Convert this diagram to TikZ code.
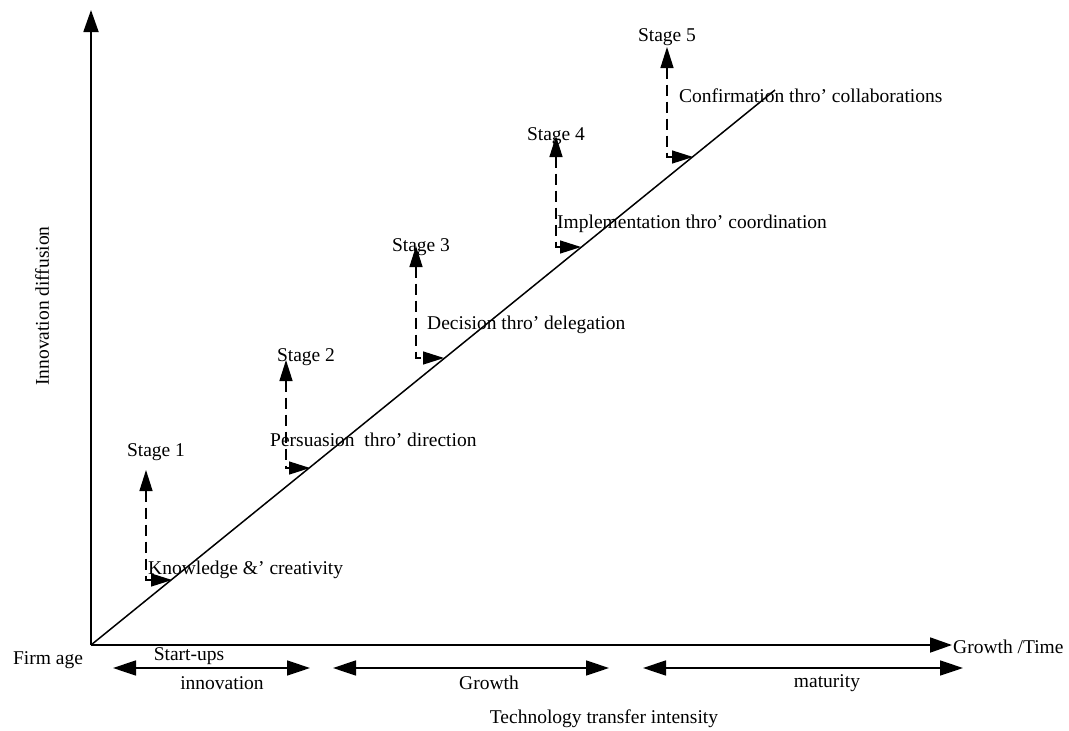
\documentclass[tikz,border=0pt]{standalone}
\usepackage{fontspec}
\setmainfont{Liberation Serif}
\usetikzlibrary{arrows.meta}
\tikzset{
  lbl/.style={inner sep=0pt, font=\fontsize{19.5}{22}\selectfont},
  axis/.style={line width=1.8pt, -{Triangle[length=22pt,width=15pt]}},
  diag/.style={line width=1.5pt},
  stagearrow/.style={line width=1.3pt, dash pattern=on 11pt off 6pt,
    {Triangle[length=21pt,width=13pt]}-{Triangle[length=21pt,width=13pt]}},
  phase/.style={line width=1.5pt,
    {Triangle[length=23pt,width=15pt]}-{Triangle[length=23pt,width=15pt]}}
}
\begin{document}
\begin{tikzpicture}[x=1pt,y=-1pt]
  \useasboundingbox (0,0) rectangle (1069,731);

  % axes
  \coordinate (O) at (91,645);
  \coordinate (ytop) at (91,10);
  \coordinate (xend) at (952,645);
  \draw[axis] (O) -- (ytop);
  \draw[axis] (O) -- (xend);

  % diffusion line
  \coordinate (dend) at (775,90);
  \draw[diag] (O) -- (dend);

  % stage connectors: dashed rise from the line up to each stage
  \coordinate (s1top) at (146,470);  \coordinate (s1foot) at (172,580);
  \coordinate (s2top) at (286,360);  \coordinate (s2foot) at (310,468);
  \coordinate (s3top) at (416,246);  \coordinate (s3foot) at (444,358);
  \coordinate (s4top) at (556,136);  \coordinate (s4foot) at (581,247);
  \coordinate (s5top) at (667,47);   \coordinate (s5foot) at (693,157);
  \foreach \i in {1,...,5}{
    \draw[stagearrow] (s\i top) |- (s\i foot);
  }

  % stage titles
  \node[lbl] (st1) at (156,452) {Stage 1};
  \node[lbl] (st2) at (306,357) {Stage 2};
  \node[lbl] (st3) at (421,247) {Stage 3};
  \node[lbl] (st4) at (556,136) {Stage 4};
  \node[lbl] (st5) at (667,37)  {Stage 5};

  % stage descriptions
  \node[lbl, anchor=west] (d1) at (148,570) {Knowledge \&’ creativity};
  \node[lbl, anchor=west] (d2) at (270,440) {Persuasion\ \ thro’ direction};
  \node[lbl, anchor=west] (d3) at (427,325) {Decision thro’ delegation};
  \node[lbl, anchor=west] (d4) at (557,224) {Implementation thro’ coordination};
  \node[lbl, anchor=west] (d5) at (679,96)  {Confirmation thro’ collaborations};

  % axis labels
  \node[lbl, rotate=90] (ylab) at (42,306) {Innovation diffusion};
  \node[lbl] (firm) at (48,660) {Firm age};
  \node[lbl, anchor=west] (xlab) at (953,647) {Growth /Time};
  \node[lbl] (tti) at (604,719) {Technology transfer intensity};

  % phases along the time axis
  \coordinate (p1a) at (113,668); \coordinate (p1b) at (310,668);
  \coordinate (p2a) at (333,668); \coordinate (p2b) at (609,668);
  \coordinate (p3a) at (643,668); \coordinate (p3b) at (963,668);
  \draw[phase] (p1a) -- (p1b);
  \draw[phase] (p2a) -- (p2b);
  \draw[phase] (p3a) -- (p3b);
  \node[lbl] (ph1a) at (189,656) {Start-ups};
  \node[lbl] (ph1b) at (222,683) {innovation};
  \node[lbl] (ph2) at (489,683) {Growth};
  \node[lbl] (ph3) at (827,683) {maturity};
\end{tikzpicture}
\end{document}
